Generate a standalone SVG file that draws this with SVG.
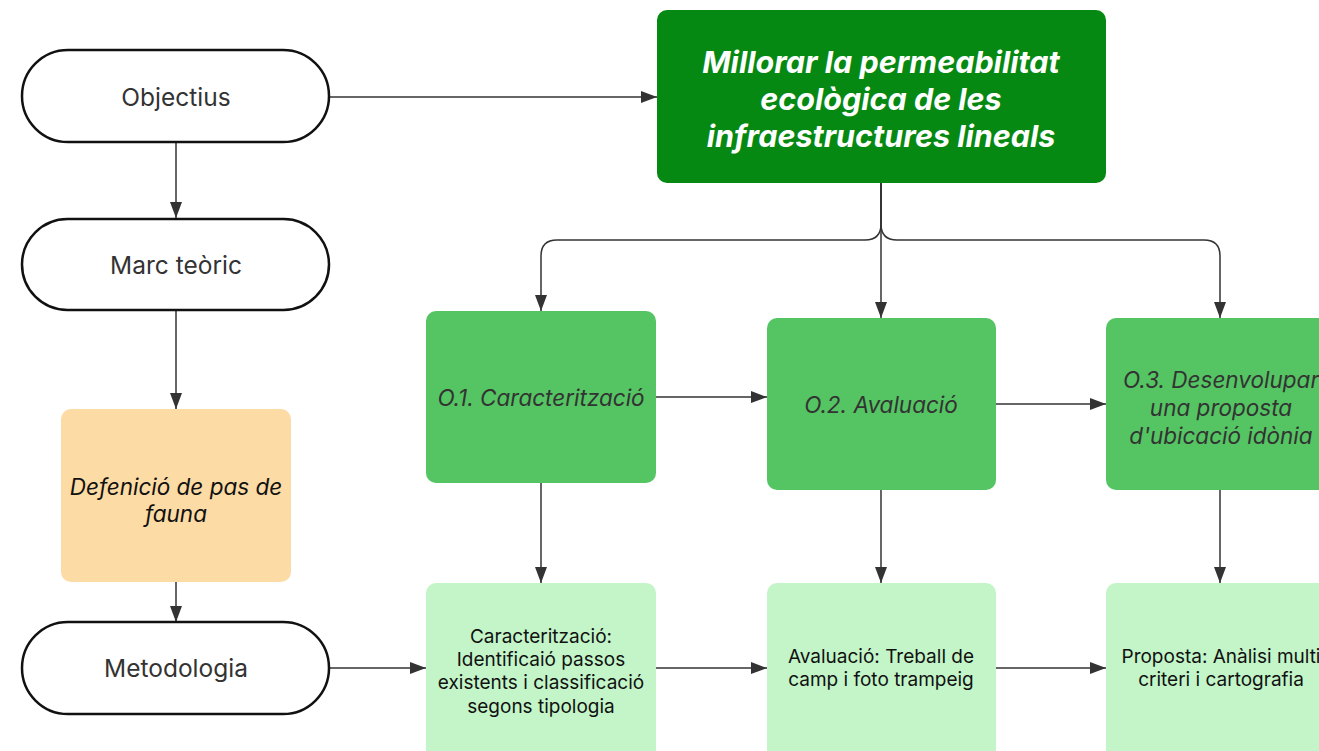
<svg xmlns="http://www.w3.org/2000/svg" width="1319" height="751" viewBox="0 0 1319 751">
  <defs>
    <marker id="arrow" viewBox="0 0 16 12" refX="16" refY="6" markerWidth="16" markerHeight="12" markerUnits="userSpaceOnUse" orient="auto">
      <path d="M0,0 L16,6 L0,12 Z" fill="#333333"/>
    </marker>
    <style>
      text { font-family: Inter, "Noto Sans", "Liberation Sans", sans-serif; text-anchor: middle; dominant-baseline: central; }
      .pill { fill: #ffffff; stroke: #111111; stroke-width: 2.5; }
      .pill-t { font-size: 24.5px; fill: #333333; }
      .main { fill: #068912; }
      .main-t { font-size: 30.5px; font-weight: 700; font-style: italic; fill: #ffffff; }
      .obj { fill: #54c562; }
      .obj-t { font-size: 22.5px; font-style: italic; fill: #333333; }
      .def { fill: #fddba4; }
      .def-t { font-size: 22.5px; font-style: italic; fill: #111111; }
      .task { fill: #c3f5c8; }
      .task-t { font-size: 19px; fill: #111111; }
      .edge { fill: none; stroke: #333333; stroke-width: 1.5; marker-end: url(#arrow); }
    </style>
  </defs>

  <rect width="1319" height="751" fill="#ffffff"/>

  <!-- connectors -->
  <g id="connectors">
    <path class="edge" d="M330,97 H657"/>
    <path class="edge" d="M176,143 V218"/>
    <path class="edge" d="M176,310 V409"/>
    <path class="edge" d="M176,582 V622"/>
    <path class="edge" d="M330,668 H426"/>
    <path class="edge" d="M656,668 H767"/>
    <path class="edge" d="M996,668 H1106"/>
    <path class="edge" d="M656,397 H767"/>
    <path class="edge" d="M996,404 H1106"/>
    <path class="edge" d="M541,483 V583"/>
    <path class="edge" d="M881,490 V583"/>
    <path class="edge" d="M1220,490 V583"/>
    <path class="edge" d="M881,183 V224 Q881,240 865,240 H557 Q541,240 541,256 V311"/>
    <path class="edge" d="M881,183 V318"/>
    <path class="edge" d="M881,183 V224 Q881,240 897,240 H1204 Q1220,240 1220,256 V318"/>
  </g>

  <!-- left column -->
  <g id="objectius">
    <rect class="pill" x="22" y="50" width="307" height="92" rx="46"/>
    <text class="pill-t" x="176" y="97">Objectius</text>
  </g>
  <g id="marc-teoric">
    <rect class="pill" x="22" y="219" width="307" height="91" rx="45.5"/>
    <text class="pill-t" x="176" y="265">Marc teòric</text>
  </g>
  <g id="definicio">
    <rect class="def" x="61" y="409" width="230" height="173" rx="10"/>
    <text class="def-t" x="176" y="486">Defenició de pas de</text>
    <text class="def-t" x="176" y="513">fauna</text>
  </g>
  <g id="metodologia">
    <rect class="pill" x="22" y="622" width="307" height="92" rx="46"/>
    <text class="pill-t" x="176" y="668">Metodologia</text>
  </g>

  <!-- main objective -->
  <g id="objectiu-general">
    <rect class="main" x="657" y="10" width="449" height="173" rx="10"/>
    <text class="main-t" x="881" y="61">Millorar la permeabilitat</text>
    <text class="main-t" x="881" y="98">ecològica de les</text>
    <text class="main-t" x="881" y="135">infraestructures lineals</text>
  </g>

  <!-- specific objectives -->
  <g id="o1">
    <rect class="obj" x="426" y="311" width="230" height="172" rx="10"/>
    <text class="obj-t" x="541" y="397">O.1. Caracterització</text>
  </g>
  <g id="o2">
    <rect class="obj" x="767" y="318" width="229" height="172" rx="10"/>
    <text class="obj-t" x="881" y="404">O.2. Avaluació</text>
  </g>
  <g id="o3">
    <rect class="obj" x="1106" y="318" width="230" height="172" rx="10"/>
    <text class="obj-t" x="1221" y="379">O.3. Desenvolupar</text>
    <text class="obj-t" x="1221" y="407">una proposta</text>
    <text class="obj-t" x="1221" y="435">d'ubicació idònia</text>
  </g>

  <!-- methodology steps -->
  <g id="m1">
    <rect class="task" x="426" y="583" width="230" height="190" rx="10"/>
    <text class="task-t" x="541" y="636">Caracterització:</text>
    <text class="task-t" x="541" y="659">Identificaió passos</text>
    <text class="task-t" x="541" y="682">existents i classificació</text>
    <text class="task-t" x="541" y="706">segons tipologia</text>
  </g>
  <g id="m2">
    <rect class="task" x="767" y="583" width="229" height="190" rx="10"/>
    <text class="task-t" x="881" y="656">Avaluació: Treball de</text>
    <text class="task-t" x="881" y="679">camp i foto trampeig</text>
  </g>
  <g id="m3">
    <rect class="task" x="1106" y="583" width="230" height="190" rx="10"/>
    <text class="task-t" x="1221" y="656">Proposta: Anàlisi multi</text>
    <text class="task-t" x="1221" y="679">criteri i cartografia</text>
  </g>
</svg>
